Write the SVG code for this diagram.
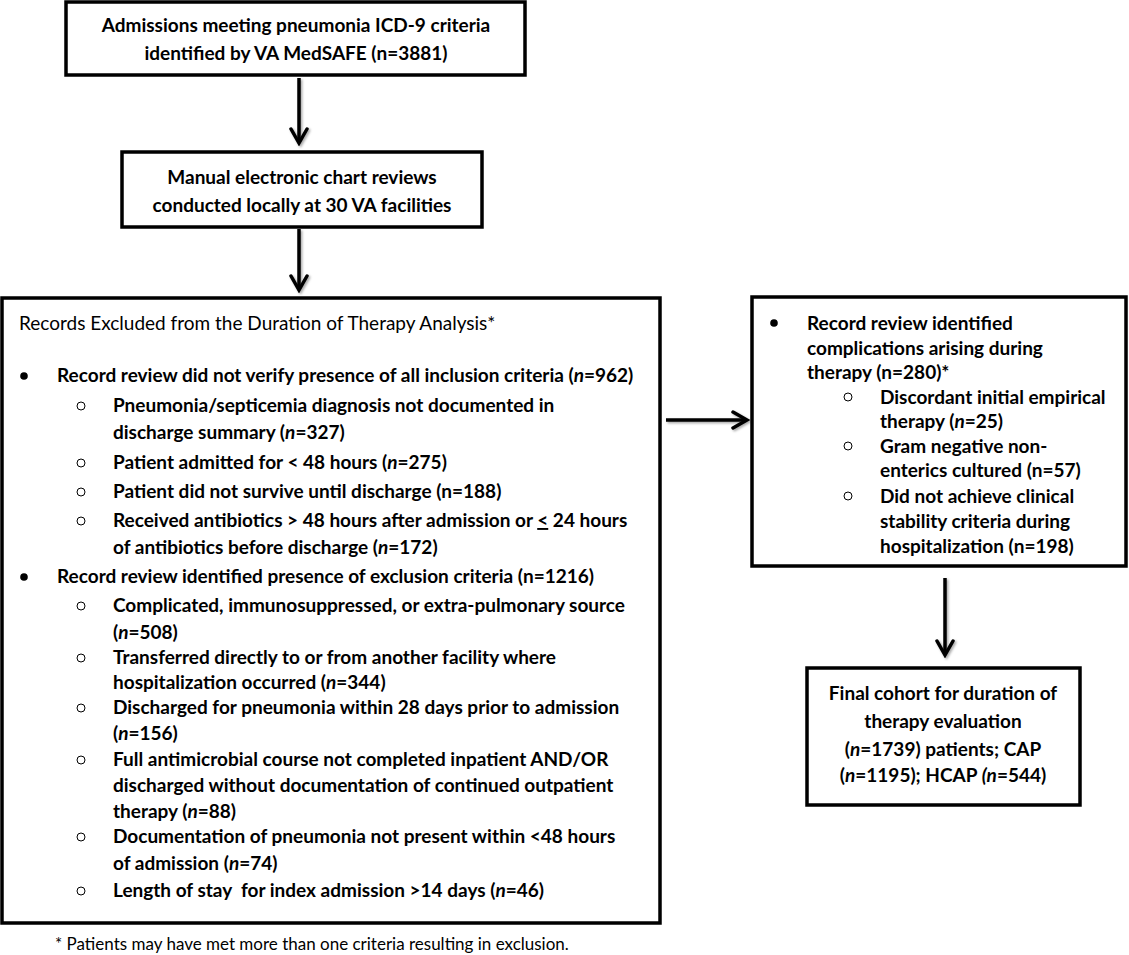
<svg xmlns="http://www.w3.org/2000/svg" width="1129" height="955" viewBox="0 0 1129 955">
<style>
.box{fill:#fff;stroke:#000;stroke-width:3.5}
.t{font-family:Lato,"Open Sans","Liberation Sans",sans-serif;font-weight:bold;font-size:19px;fill:#000}
.r{font-family:Lato,"Open Sans","Liberation Sans",sans-serif;font-size:19px;fill:#000}
.c{text-anchor:middle}
.i{font-style:italic}
.fn{font-family:Lato,"Open Sans","Liberation Sans",sans-serif;font-size:17px;fill:#000}
.dot{fill:#000}
.ring{fill:none;stroke:#000;stroke-width:1}
.ln{stroke:#000;stroke-width:3.5;fill:none}
</style>
<defs>
<marker id="chev" viewBox="0 0 20 20" refX="17" refY="10" markerWidth="20" markerHeight="20" markerUnits="userSpaceOnUse" orient="auto">
<path d="M3,2 L17,10 L3,18" fill="none" stroke="#000" stroke-width="3.5" stroke-linecap="round" stroke-linejoin="miter"/>
</marker>
<filter id="sh" x="-20%" y="-20%" width="140%" height="140%">
<feDropShadow dx="1.5" dy="1.5" stdDeviation="1" flood-color="#000" flood-opacity="0.35"/>
</filter>
</defs>
<rect width="1129" height="955" fill="#fff"/>

<g id="connectors" filter="url(#sh)">
<line class="ln" x1="299" y1="78" x2="299" y2="143" marker-end="url(#chev)"/>
<line class="ln" x1="299" y1="229" x2="299" y2="290" marker-end="url(#chev)"/>
<line class="ln" x1="666" y1="420" x2="747" y2="420" marker-end="url(#chev)"/>
<line class="ln" x1="945" y1="578" x2="945" y2="655" marker-end="url(#chev)"/>
</g>

<g id="node-admissions">
<rect class="box" x="66" y="2" width="459" height="73"/>
<text class="t c" x="296" y="32">Admissions meeting pneumonia ICD-9 criteria</text>
<text class="t c" x="296" y="60">identified by VA MedSAFE (n=3881)</text>
</g>

<g id="node-chart-review">
<rect class="box" x="122" y="152" width="360" height="75"/>
<text class="t c" x="302" y="184">Manual electronic chart reviews</text>
<text class="t c" x="302" y="212">conducted locally at 30 VA facilities</text>
</g>

<g id="node-excluded">
<rect class="box" x="2" y="298" width="658" height="625"/>
<text class="r" x="19" y="330">Records Excluded from the Duration of Therapy Analysis*</text>
<circle class="dot" cx="24" cy="376" r="3.8"/>
<text class="t" x="57" y="382">Record review did not verify presence of all inclusion criteria (<tspan class="i">n</tspan>=962)</text>
<circle class="ring" cx="81" cy="406" r="4"/>
<text class="t" x="113" y="412">Pneumonia/septicemia diagnosis not documented in</text>
<text class="t" x="113" y="439">discharge summary (<tspan class="i">n</tspan>=327)</text>
<circle class="ring" cx="81" cy="463" r="4"/>
<text class="t" x="113" y="469">Patient admitted for &lt; 48 hours (<tspan class="i">n</tspan>=275)</text>
<circle class="ring" cx="81" cy="492" r="4"/>
<text class="t" x="113" y="498">Patient did not survive until discharge (n=188)</text>
<circle class="ring" cx="81" cy="521" r="4"/>
<text class="t" x="113" y="527">Received antibiotics &gt; 48 hours after admission or <tspan text-decoration="underline">&lt;</tspan> 24 hours</text>
<text class="t" x="113" y="554">of antibiotics before discharge (<tspan class="i">n</tspan>=172)</text>
<circle class="dot" cx="24" cy="577" r="3.8"/>
<text class="t" x="57" y="583">Record review identified presence of exclusion criteria (n=1216)</text>
<circle class="ring" cx="81" cy="606" r="4"/>
<text class="t" x="113" y="612">Complicated, immunosuppressed, or extra-pulmonary source</text>
<text class="t" x="113" y="639">(<tspan class="i">n</tspan>=508)</text>
<circle class="ring" cx="81" cy="658" r="4"/>
<text class="t" x="113" y="664">Transferred directly to or from another facility where</text>
<text class="t" x="113" y="689">hospitalization occurred (<tspan class="i">n</tspan>=344)</text>
<circle class="ring" cx="81" cy="708" r="4"/>
<text class="t" x="113" y="714">Discharged for pneumonia within 28 days prior to admission</text>
<text class="t" x="113" y="740">(<tspan class="i">n</tspan>=156)</text>
<circle class="ring" cx="81" cy="760" r="4"/>
<text class="t" x="113" y="766">Full antimicrobial course not completed inpatient AND/OR</text>
<text class="t" x="113" y="792">discharged without documentation of continued outpatient</text>
<text class="t" x="113" y="818">therapy (<tspan class="i">n</tspan>=88)</text>
<circle class="ring" cx="81" cy="837" r="4"/>
<text class="t" x="113" y="843">Documentation of pneumonia not present within &lt;48 hours</text>
<text class="t" x="113" y="870">of admission (<tspan class="i">n</tspan>=74)</text>
<circle class="ring" cx="81" cy="891" r="4"/>
<text class="t" x="113" y="897" xml:space="preserve">Length of stay  for index admission &gt;14 days (<tspan class="i">n</tspan>=46)</text>
</g>

<g id="node-complications">
<rect class="box" x="752" y="297" width="374" height="269"/>
<circle class="dot" cx="774" cy="323" r="3.8"/>
<text class="t" x="807" y="330">Record review identified</text>
<text class="t" x="807" y="355">complications arising during</text>
<text class="t" x="807" y="379">therapy (n=280)*</text>
<circle class="ring" cx="848" cy="397" r="4"/>
<text class="t" x="880" y="404">Discordant initial empirical</text>
<text class="t" x="880" y="428">therapy (<tspan class="i">n</tspan>=25)</text>
<circle class="ring" cx="848" cy="446" r="4"/>
<text class="t" x="880" y="453">Gram negative non-</text>
<text class="t" x="880" y="477">enterics cultured (n=57)</text>
<circle class="ring" cx="848" cy="496" r="4"/>
<text class="t" x="880" y="503">Did not achieve clinical</text>
<text class="t" x="880" y="528">stability criteria during</text>
<text class="t" x="880" y="553">hospitalization (n=198)</text>
</g>

<g id="node-final-cohort">
<rect class="box" x="807" y="668" width="273" height="137"/>
<text class="t c" x="943" y="700">Final cohort for duration of</text>
<text class="t c" x="943" y="728">therapy evaluation</text>
<text class="t c" x="943" y="756">(<tspan class="i">n</tspan>=1739) patients; CAP</text>
<text class="t c" x="943" y="782">(<tspan class="i">n</tspan>=1195); HCAP <tspan class="i">(n</tspan>=544)</text>
</g>

<g id="footnote">
<text class="fn" x="55" y="950">* Patients may have met more than one criteria resulting in exclusion.</text>
</g>
</svg>
